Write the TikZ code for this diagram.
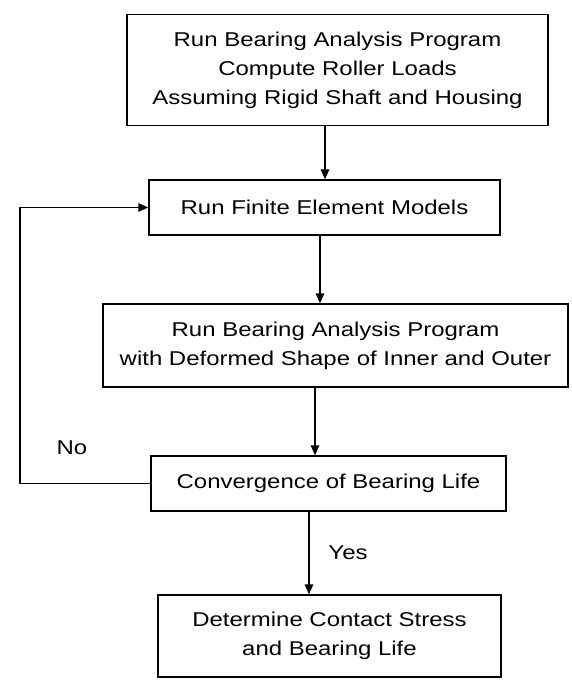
\documentclass[tikz,border=0pt]{standalone}
\usepackage{fontspec}
\setmainfont{Liberation Sans}[FakeStretch=1.2]
\usetikzlibrary{arrows.meta}
\tikzset{
    blk/.style={draw, line width=1pt, align=center, inner sep=0pt, font=\fontsize{14.2}{20.6}\selectfont},
    arr/.style={line width=1pt, -{Triangle[length=7pt,width=6pt]}},
    lbl/.style={font=\fontsize{14.2}{17}\selectfont}
}
\begin{document}
\begin{tikzpicture}[x=0.025cm,y=-0.025cm]
    % \draw[very thin,color=gray] (0,0) grid[step=50] (571,681);
    \useasboundingbox (0,0) rectangle (571,681);
    %boxes
    \node[blk, minimum width=10.525cm, minimum height=2.775cm] (run) at (337.5,70) {Run Bearing Analysis Program\\Compute Roller Loads\\Assuming Rigid Shaft and Housing};
    \node[blk, minimum width=8.775cm, minimum height=1.375cm] (fem) at (324.5,207.5) {Run Finite Element Models};
    \node[blk, minimum width=11.625cm, minimum height=2.075cm] (rerun) at (335.5,345.5) {Run Bearing Analysis Program\\with Deformed Shape of Inner and Outer};
    \node[blk, minimum width=8.875cm, minimum height=1.375cm] (conv) at (328.5,483.5) {Convergence of Bearing Life};
    \node[blk, minimum width=8.575cm, minimum height=2.05cm] (life) at (329.5,636) {Determine Contact Stress\\and Bearing Life};
    %arrows
    \coordinate (a1) at (325,0);
    \coordinate (a2) at (320,0);
    \coordinate (a3) at (315,0);
    \coordinate (a4) at (309,0);
    \draw[arr] (run.south -| a1) -- (fem.north -| a1);
    \draw[arr] (fem.south -| a2) -- (rerun.north -| a2);
    \draw[arr] (rerun.south -| a3) -- (conv.north -| a3);
    \draw[arr] (conv.south -| a4) -- node[lbl, right=10pt] (yes) {Yes} (life.north -| a4);
    %loop back
    \coordinate (fb) at (20,0);
    \draw[arr] (conv.west) -- (conv.west -| fb) |- (fem.west);
    \node[lbl] (no) at (72,448) {No};
\end{tikzpicture}
\end{document}
